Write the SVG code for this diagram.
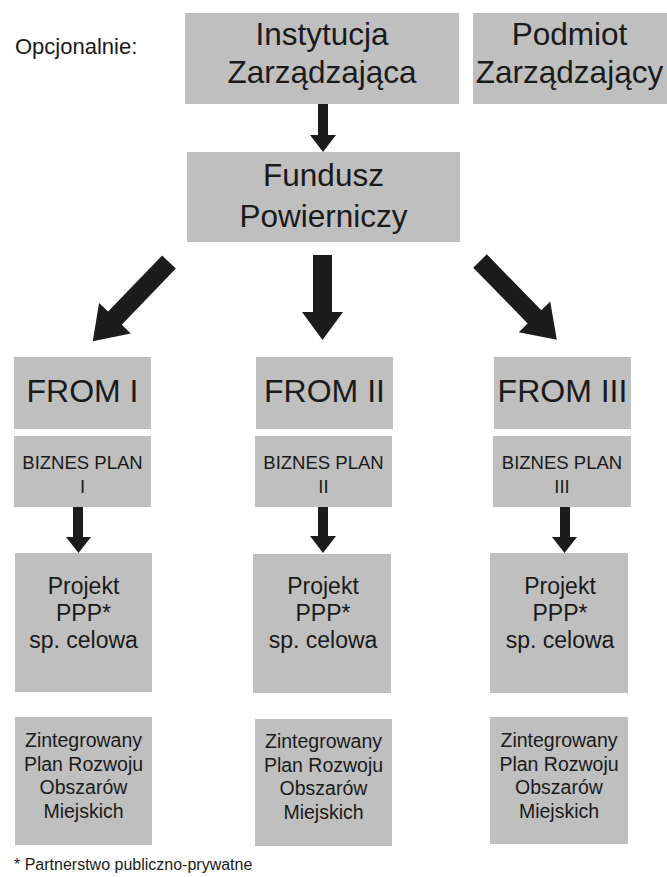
<svg xmlns="http://www.w3.org/2000/svg" width="667" height="877" viewBox="0 0 667 877">
<style>
  .box { fill: #bfbfbf; }
  text { font-family: "Liberation Sans", Arial, sans-serif; fill: #1a1a1a; text-anchor: middle; }
  .big { font-size: 31.5px; }
  .from { font-size: 32px; }
  .bp { font-size: 18.5px; }
  .pr { font-size: 23px; }
  .zi { font-size: 19.5px; }
  .arrow { fill: #1c1c1c; }
</style>
<rect width="667" height="877" fill="#ffffff"/>

<text x="15" y="54" style="font-size:22px;text-anchor:start">Opcjonalnie:</text>

<g id="instytucja">
  <rect class="box" x="185" y="13" width="274" height="91"/>
  <text class="big" x="322" y="45">Instytucja</text>
  <text class="big" x="322" y="83">Zarządzająca</text>
</g>
<g id="podmiot">
  <rect class="box" x="473" y="13" width="194" height="91"/>
  <text class="big" x="569.5" y="45">Podmiot</text>
  <text class="big" x="569.5" y="83">Zarządzający</text>
</g>
<g id="fundusz">
  <rect class="box" x="187" y="152" width="273" height="90"/>
  <text class="big" x="323.5" y="186">Fundusz</text>
  <text class="big" x="323.5" y="227">Powierniczy</text>
</g>

<g id="from1">
  <rect class="box" x="14" y="357" width="137" height="72"/>
  <text class="from" x="82.5" y="402">FROM I</text>
</g>
<g id="from2">
  <rect class="box" x="256" y="357" width="137" height="72"/>
  <text class="from" x="324.5" y="402">FROM II</text>
</g>
<g id="from3">
  <rect class="box" x="494" y="357" width="137" height="72"/>
  <text class="from" x="562.5" y="402">FROM III</text>
</g>

<g id="bp1">
  <rect class="box" x="14" y="436" width="137" height="71"/>
  <text class="bp" x="82.5" y="469">BIZNES PLAN</text>
  <text class="bp" x="82.5" y="493">I</text>
</g>
<g id="bp2">
  <rect class="box" x="255" y="436" width="137" height="71"/>
  <text class="bp" x="323.5" y="469">BIZNES PLAN</text>
  <text class="bp" x="323.5" y="493">II</text>
</g>
<g id="bp3">
  <rect class="box" x="493" y="436" width="138" height="71"/>
  <text class="bp" x="562" y="469">BIZNES PLAN</text>
  <text class="bp" x="562" y="493">III</text>
</g>

<g id="projekt1">
  <rect class="box" x="15" y="553" width="137" height="139"/>
  <text class="pr" x="83.5" y="594">Projekt</text>
  <text class="pr" x="83.5" y="621">PPP*</text>
  <text class="pr" x="83.5" y="648">sp. celowa</text>
</g>
<g id="projekt2">
  <rect class="box" x="253" y="554" width="138" height="139"/>
  <text class="pr" x="323" y="594">Projekt</text>
  <text class="pr" x="323" y="621">PPP*</text>
  <text class="pr" x="323" y="648">sp. celowa</text>
</g>
<g id="projekt3">
  <rect class="box" x="490" y="553" width="138" height="140"/>
  <text class="pr" x="560" y="594">Projekt</text>
  <text class="pr" x="560" y="621">PPP*</text>
  <text class="pr" x="560" y="648">sp. celowa</text>
</g>

<g id="zintegrowany1">
  <rect class="box" x="15" y="717" width="137" height="128"/>
  <text class="zi" x="83.5" y="747">Zintegrowany</text>
  <text class="zi" x="83.5" y="770.5">Plan Rozwoju</text>
  <text class="zi" x="83.5" y="794">Obszarów</text>
  <text class="zi" x="83.5" y="817.5">Miejskich</text>
</g>
<g id="zintegrowany2">
  <rect class="box" x="255" y="719" width="137" height="127"/>
  <text class="zi" x="323.5" y="748">Zintegrowany</text>
  <text class="zi" x="323.5" y="771.5">Plan Rozwoju</text>
  <text class="zi" x="323.5" y="795">Obszarów</text>
  <text class="zi" x="323.5" y="818.5">Miejskich</text>
</g>
<g id="zintegrowany3">
  <rect class="box" x="490" y="717" width="138" height="127"/>
  <text class="zi" x="559" y="747">Zintegrowany</text>
  <text class="zi" x="559" y="770.5">Plan Rozwoju</text>
  <text class="zi" x="559" y="794">Obszarów</text>
  <text class="zi" x="559" y="817.5">Miejskich</text>
</g>

<g id="connectors">
  <polygon class="arrow" points="318,104 328,104 328,135 336,135 323,152 310,135 318,135"/>
  <polygon class="arrow" points="313,255 332,255 332,312 343,312 322.5,340 302,312 313,312"/>
  <polygon class="arrow" transform="translate(169,262) rotate(133.9)" points="0,-9.5 78,-9.5 78,-22 110,0 78,22 78,9.5 0,9.5"/>
  <polygon class="arrow" transform="translate(480,261) rotate(45.7)" points="0,-9.5 78,-9.5 78,-22 110,0 78,22 78,9.5 0,9.5"/>
  <polygon class="arrow" points="73,507 83,507 83,537 91,537 78.5,553 66,537 73,537"/>
  <polygon class="arrow" points="318,507 328,507 328,536 336,536 323,553 310,536 318,536"/>
  <polygon class="arrow" points="560,507 570,507 570,537 577,537 564.5,553 552,537 560,537"/>
</g>

<text x="14" y="870" style="font-size:16px;text-anchor:start">* Partnerstwo publiczno-prywatne</text>
</svg>
